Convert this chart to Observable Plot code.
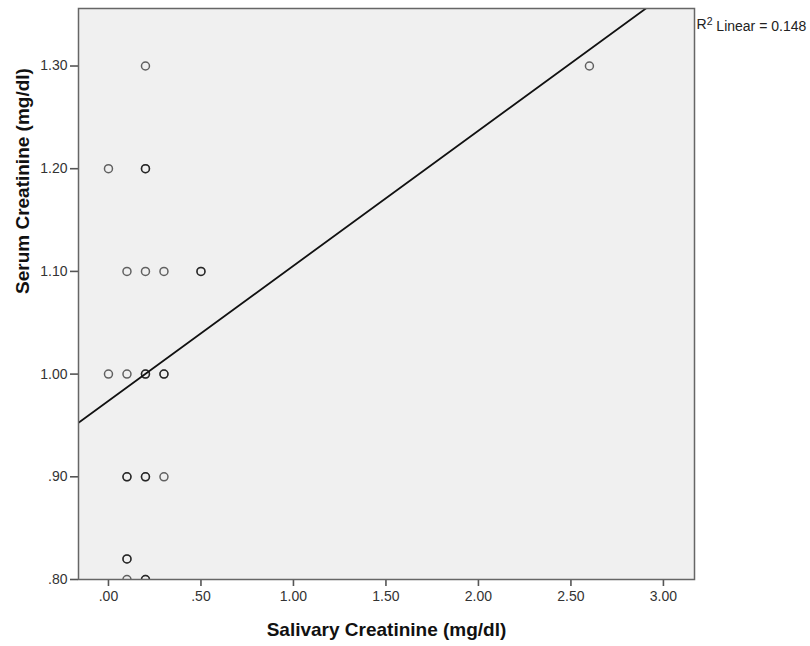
<!DOCTYPE html>
<html>
<head>
<meta charset="utf-8">
<script src="https://cdn.jsdelivr.net/npm/d3@7"></script>
<script src="https://cdn.jsdelivr.net/npm/@observablehq/plot@0.6"></script>
<style>
  html, body { margin: 0; padding: 0; background: #fff; }
  #chart svg { display: block; }
</style>
</head>
<body>
<div id="chart"></div>
<script>
// Observations (duplicates listed as repeated entries; overlapping circles look darker)
const salivary = [0.2, 2.6, 0.0, 0.2, 0.2, 0.1, 0.2, 0.3, 0.5, 0.5, 0.0, 0.1, 0.2, 0.2, 0.3, 0.3, 0.1, 0.1, 0.2, 0.2, 0.3, 0.1, 0.1, 0.1, 0.2, 0.2];
const serum    = [1.30, 1.30, 1.20, 1.20, 1.20, 1.10, 1.10, 1.10, 1.10, 1.10, 1.00, 1.00, 1.00, 1.00, 1.00, 1.00, 0.90, 0.90, 0.90, 0.90, 0.90, 0.82, 0.82, 0.80, 0.80, 0.80];

// Fitted linear regression
const fitIntercept = 0.974;
const fitSlope = 0.1315;
const r2Label = "R2 Linear = 0.148";

const xDomain = [-0.162, 3.168];
const yDomain = [0.80, 1.356];
const xTicks = [0, 0.5, 1, 1.5, 2, 2.5, 3];
const xTickLabels = [".00", ".50", "1.00", "1.50", "2.00", "2.50", "3.00"];
const yTicks = [0.8, 0.9, 1.0, 1.1, 1.2, 1.3];
const yTickLabels = [".80", ".90", "1.00", "1.10", "1.20", "1.30"];
const xTitle = "Salivary Creatinine (mg/dl)";
const yTitle = "Serum Creatinine (mg/dl)";

const points = salivary.map((x, i) => ({x, y: serum[i]}));
const fitLine = xDomain.map(x => ({x, y: fitIntercept + fitSlope * x}));

const chart = Plot.plot({
  width: 810,
  height: 646,
  marginLeft: 78,
  marginRight: 116,
  marginTop: 8,
  marginBottom: 67,
  style: {fontFamily: "'Liberation Sans', Arial, sans-serif", fontSize: "14px", color: "#333", background: "#fff"},
  x: {domain: xDomain},
  y: {domain: yDomain},
  marks: [
    Plot.frame({fill: "#f0f0f0", stroke: null}),
    Plot.axisX({ticks: xTicks, tickFormat: (d) => xTickLabels[xTicks.findIndex(t => Math.abs(t - d) < 1e-9)], tickSize: 7, tickPadding: 5, stroke: "#555", strokeWidth: 1.6, label: null, fontSize: 14}),
    Plot.axisY({ticks: yTicks, tickFormat: (d) => yTickLabels[yTicks.findIndex(t => Math.abs(t - d) < 1e-9)], tickSize: 8, tickPadding: 3, stroke: "#555", strokeWidth: 1.6, label: null, fontSize: 14}),
    Plot.dot(points, {x: "x", y: "y", r: 4, stroke: "#000", strokeOpacity: 0.6, strokeWidth: 1.5, fill: "none", clip: true}),
    Plot.line(fitLine, {x: "x", y: "y", stroke: "#111", strokeWidth: 1.8, clip: true}),
    Plot.frame({stroke: "#666", strokeWidth: 1.5}),
    Plot.text([xTitle], {frameAnchor: "bottom", dy: 56, text: d => d, fontWeight: "bold", fontSize: 19, fill: "#111"}),
    Plot.text([yTitle], {frameAnchor: "left", dx: -56, rotate: -90, text: d => d, fontWeight: "bold", fontSize: 19, fill: "#111"}),
    Plot.text([r2Label], {frameAnchor: "top-right", dx: 2, dy: 11, textAnchor: "start", text: d => d, fontSize: 14, fill: "#222"})
  ]
});

document.getElementById("chart").appendChild(chart);

// Render the "2" of R2 as a superscript
d3.select(chart).selectAll("text").filter(function() { return this.textContent === r2Label; }).each(function() {
  const t = d3.select(this);
  t.text(null);
  t.append("tspan").text("R");
  t.append("tspan").attr("dy", "-0.4em").attr("font-size", "10.5px").text("2");
  t.append("tspan").attr("dy", "0.4em").text(" Linear = 0.148");
});
</script>
</body>
</html>
